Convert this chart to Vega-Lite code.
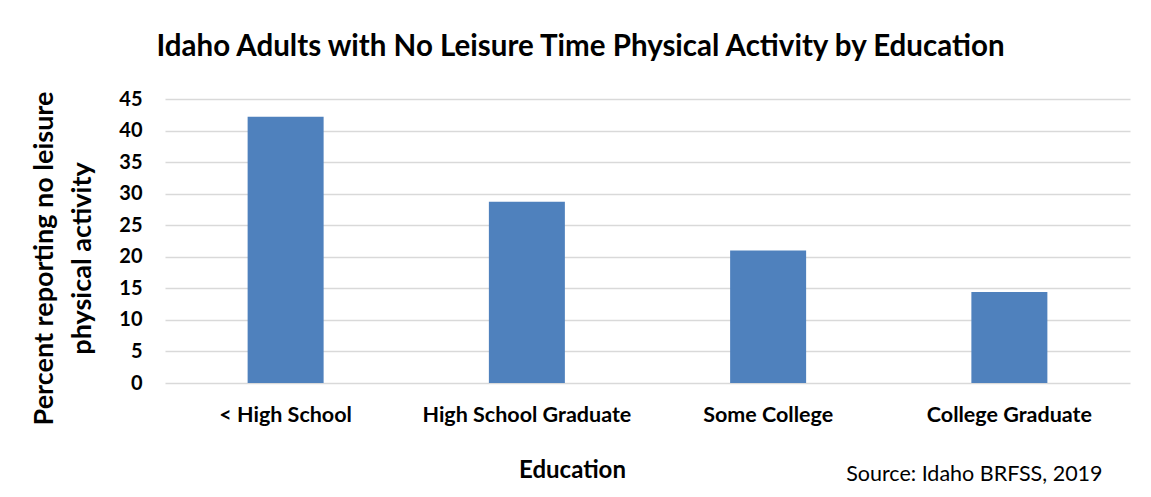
{
  "$schema": "https://vega.github.io/schema/vega-lite/v6.json",
  "width": 965,
  "height": 284,
  "autosize": "none",
  "padding": {"left": 165, "top": 99, "right": 21, "bottom": 114},
  "background": "white",
  "config": {
    "font": "Lato",
    "view": {"stroke": null},
    "axis": {"labelFont": "Lato", "titleFont": "Lato"},
    "axisX": {
      "titleFontSize": 24,
      "titleFontWeight": "bold",
      "titleColor": "#000000",
      "titleX": 407,
      "titleY": 94,
      "titleBaseline": "alphabetic",
      "labelAngle": 0,
      "labelFontSize": 21.5,
      "labelFontWeight": "bold",
      "labelColor": "#000000",
      "labelPadding": 21,
      "labelLimit": 0,
      "labelOverlap": false,
      "ticks": false,
      "domain": false,
      "grid": false
    },
    "axisY": {
      "titleFontSize": 27,
      "titleFontWeight": "bold",
      "titleColor": "#000000",
      "titleLineHeight": 38,
      "titleAngle": -90,
      "titleAlign": "center",
      "titleBaseline": "top",
      "titleX": -134,
      "titleY": 159,
      "labelOverlap": false,
      "labelFontSize": 20,
      "labelFontWeight": "bold",
      "labelColor": "#000000",
      "labelPadding": 23,
      "ticks": false,
      "domain": false,
      "grid": true,
      "gridColor": "#D9D9D9",
      "gridWidth": 1.5
    }
  },
  "title": {
    "text": "Idaho Adults with No Leisure Time Physical Activity by Education",
    "font": "Lato",
    "fontSize": 29.5,
    "fontWeight": "bold",
    "color": "#000000",
    "anchor": "middle",
    "dx": -67,
    "offset": 27
  },
  "layer": [
    {
      "data": {
        "values": [
          {"education": "< High School", "percent": 42.2},
          {"education": "High School Graduate", "percent": 28.7},
          {"education": "Some College", "percent": 21.0},
          {"education": "College Graduate", "percent": 14.4}
        ]
      },
      "mark": {"type": "bar", "color": "#4F81BD"},
      "encoding": {
        "x": {
          "field": "education",
          "type": "nominal",
          "sort": null,
          "scale": {"paddingInner": 0.685, "paddingOuter": 0.3425},
          "axis": {"title": "Education"}
        },
        "y": {
          "field": "percent",
          "type": "quantitative",
          "scale": {"domain": [0, 45], "nice": false},
          "axis": {
            "title": ["Percent reporting no leisure", "physical activity"],
            "values": [0, 5, 10, 15, 20, 25, 30, 35, 40, 45]
          }
        }
      }
    },
    {
      "data": {"values": [{"education": "College Graduate", "percent": 0, "note": "Source: Idaho BRFSS, 2019"}]},
      "mark": {"type": "text", "font": "Lato", "fontSize": 21.5, "color": "#000000", "align": "center", "baseline": "alphabetic", "dx": -35, "dy": 98},
      "encoding": {
        "x": {"field": "education", "type": "nominal", "sort": null, "axis": {"title": "Education"}},
        "y": {
          "field": "percent",
          "type": "quantitative",
          "axis": {
            "title": ["Percent reporting no leisure", "physical activity"],
            "values": [0, 5, 10, 15, 20, 25, 30, 35, 40, 45]
          }
        },
        "text": {"field": "note"}
      }
    }
  ]
}
